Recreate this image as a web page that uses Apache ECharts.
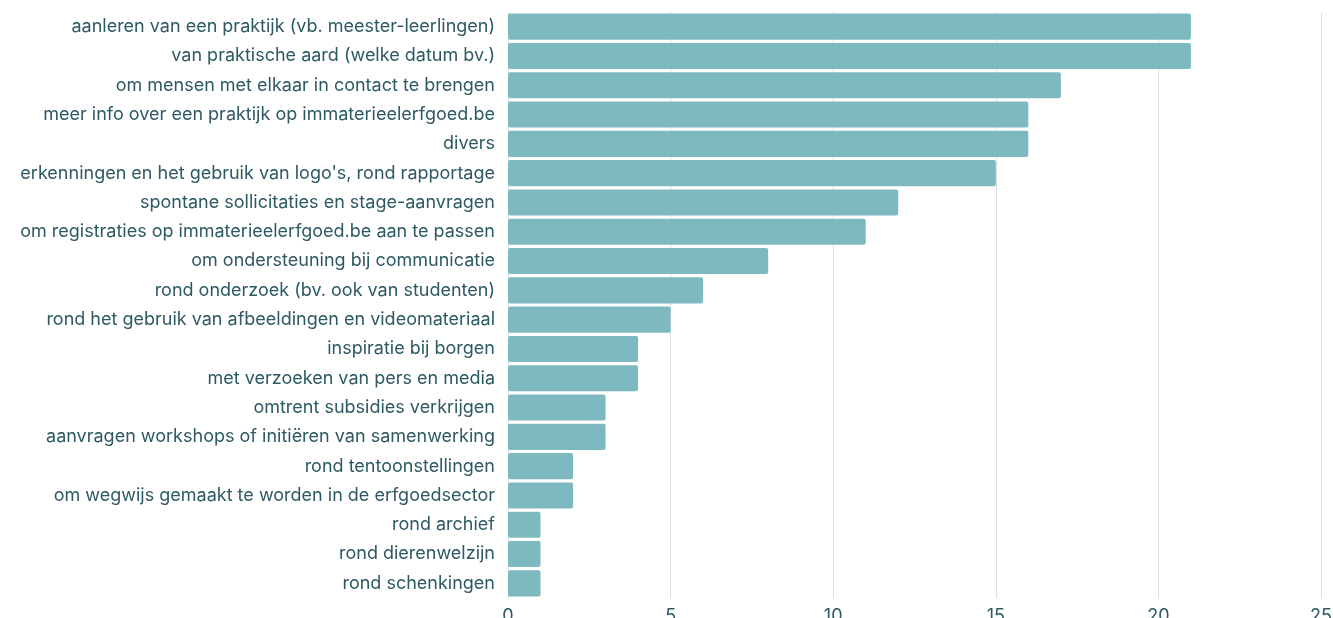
<!DOCTYPE html>
<html>
<head>
<meta charset="utf-8">
<script src="https://cdn.jsdelivr.net/npm/echarts@6/dist/echarts.min.js"></script>
<style>
  html, body { margin: 0; padding: 0; background: #fff; }
  #chart { width: 1333px; height: 618px; }
</style>
</head>
<body>
<div id="chart"></div>
<script>
const categories = [
  "aanleren van een praktijk (vb. meester-leerlingen)",
  "van praktische aard (welke datum bv.)",
  "om mensen met elkaar in contact te brengen",
  "meer info over een praktijk op immaterieelerfgoed.be",
  "divers",
  "erkenningen en het gebruik van logo's, rond rapportage",
  "spontane sollicitaties en stage-aanvragen",
  "om registraties op immaterieelerfgoed.be aan te passen",
  "om ondersteuning bij communicatie",
  "rond onderzoek (bv. ook van studenten)",
  "rond het gebruik van afbeeldingen en videomateriaal",
  "inspiratie bij borgen",
  "met verzoeken van pers en media",
  "omtrent subsidies verkrijgen",
  "aanvragen workshops of initiëren van samenwerking",
  "rond tentoonstellingen",
  "om wegwijs gemaakt te worden in de erfgoedsector",
  "rond archief",
  "rond dierenwelzijn",
  "rond schenkingen"
];
const values = [21, 21, 17, 16, 16, 15, 12, 11, 8, 6, 5, 4, 4, 3, 3, 2, 2, 1, 1, 1];

const textColor = "#2d5a62";
const chart = echarts.init(document.getElementById("chart"));
chart.setOption({
  animation: false,
  grid: { left: 508, right: 12, top: 12, bottom: 20, containLabel: false, outerBoundsMode: "none" },
  xAxis: {
    type: "value",
    min: 0,
    max: 25,
    interval: 5,
    axisLine: { show: false },
    axisTick: { show: false },
    axisLabel: { color: textColor, fontSize: 18, fontFamily: "Inter", margin: 10 },
    splitLine: { lineStyle: { color: "#d9e0e2", width: 1 } }
  },
  yAxis: {
    type: "category",
    inverse: true,
    data: categories,
    axisLine: { show: false },
    axisTick: { show: false },
    axisLabel: { color: textColor, fontSize: 18, fontFamily: "Inter", margin: 13 }
  },
  series: [{
    type: "bar",
    data: values,
    barCategoryGap: "11%",
    itemStyle: { color: "#7fb9c0", borderRadius: 2 }
  }]
});
</script>
</body>
</html>
